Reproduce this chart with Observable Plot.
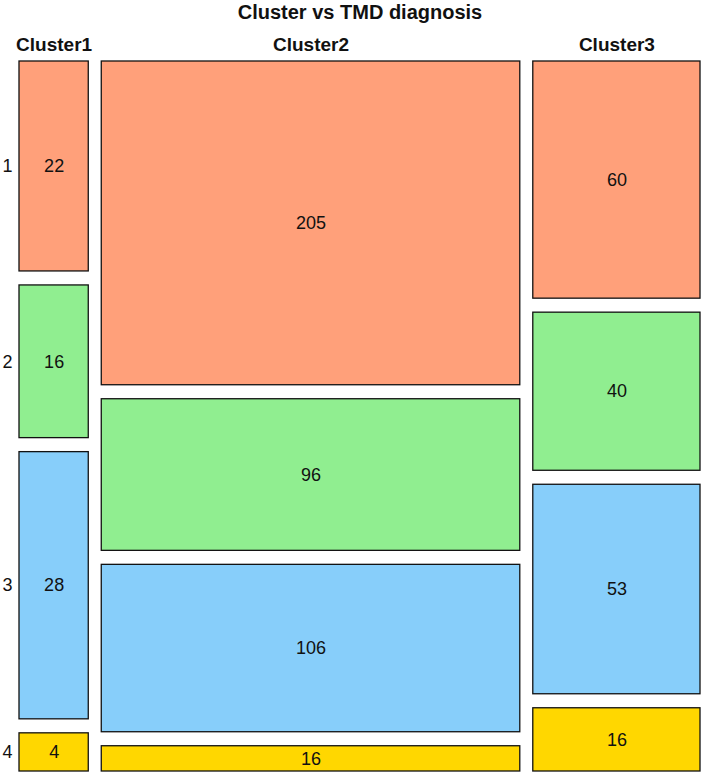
<!DOCTYPE html>
<html>
<head>
<meta charset="utf-8">
<script src="https://cdn.jsdelivr.net/npm/d3@7"></script>
<script src="https://cdn.jsdelivr.net/npm/@observablehq/plot@0.6"></script>
<style>
body { margin: 0; background: #fff; }
</style>
</head>
<body>
<div id="chart"></div>
<script>
const clusters = ["Cluster1", "Cluster2", "Cluster3"];
const diagnoses = ["1", "2", "3", "4"];
const counts = {
  Cluster1: [22, 16, 28, 4],
  Cluster2: [205, 96, 106, 16],
  Cluster3: [60, 40, 53, 16]
};
const colors = ["#FFA07A", "#90EE90", "#87CEFA", "#FFD700"];

const gapX = 13 / 681;
const gapY = 14 / 710;
const colTotals = clusters.map(c => d3.sum(counts[c]));
const grand = d3.sum(colTotals);
const usableX = 1 - gapX * (clusters.length - 1);
const usableY = 1 - gapY * (diagnoses.length - 1);

const cells = [];
const colLabels = [];
let x = 0;
clusters.forEach((c, i) => {
  const w = colTotals[i] / grand * usableX;
  let y = 0;
  counts[c].forEach((v, j) => {
    const h = v / colTotals[i] * usableY;
    cells.push({cluster: c, diag: diagnoses[j], value: v, x1: x, x2: x + w, y1: y, y2: y + h});
    y += h + gapY;
  });
  colLabels.push({label: c, x: x + w / 2});
  x += w + gapX;
});
const rowLabels = cells.filter(d => d.cluster === clusters[0]);

const chart = Plot.plot({
  width: 709,
  height: 773,
  marginLeft: 19,
  marginRight: 9,
  marginTop: 61,
  marginBottom: 2,
  style: {fontFamily: "Liberation Sans, Arial, sans-serif", background: "#fff"},
  x: {domain: [0, 1], axis: null},
  y: {domain: [0, 1], reverse: true, axis: null},
  color: {domain: diagnoses, range: colors},
  marks: [
    Plot.rect(cells, {x1: "x1", x2: "x2", y1: "y1", y2: "y2", fill: "diag", stroke: "#111", strokeWidth: 1.3}),
    Plot.text(cells, {x: d => (d.x1 + d.x2) / 2, y: d => (d.y1 + d.y2) / 2, text: d => String(d.value), fontSize: 18, fill: "#111"}),
    Plot.text(colLabels, {x: "x", y: 0, text: "label", dy: -17, fontSize: 19, fontWeight: "bold", fill: "#111"}),
    Plot.text(rowLabels, {x: 0, y: d => (d.y1 + d.y2) / 2, text: "diag", dx: -12, fontSize: 18, fill: "#111"}),
    Plot.text(["Cluster vs TMD diagnosis"], {x: 0.5, y: 0, text: d => d, dy: -49, fontSize: 20, fontWeight: "bold", fill: "#111"})
  ]
});
document.getElementById("chart").appendChild(chart);
</script>
</body>
</html>
